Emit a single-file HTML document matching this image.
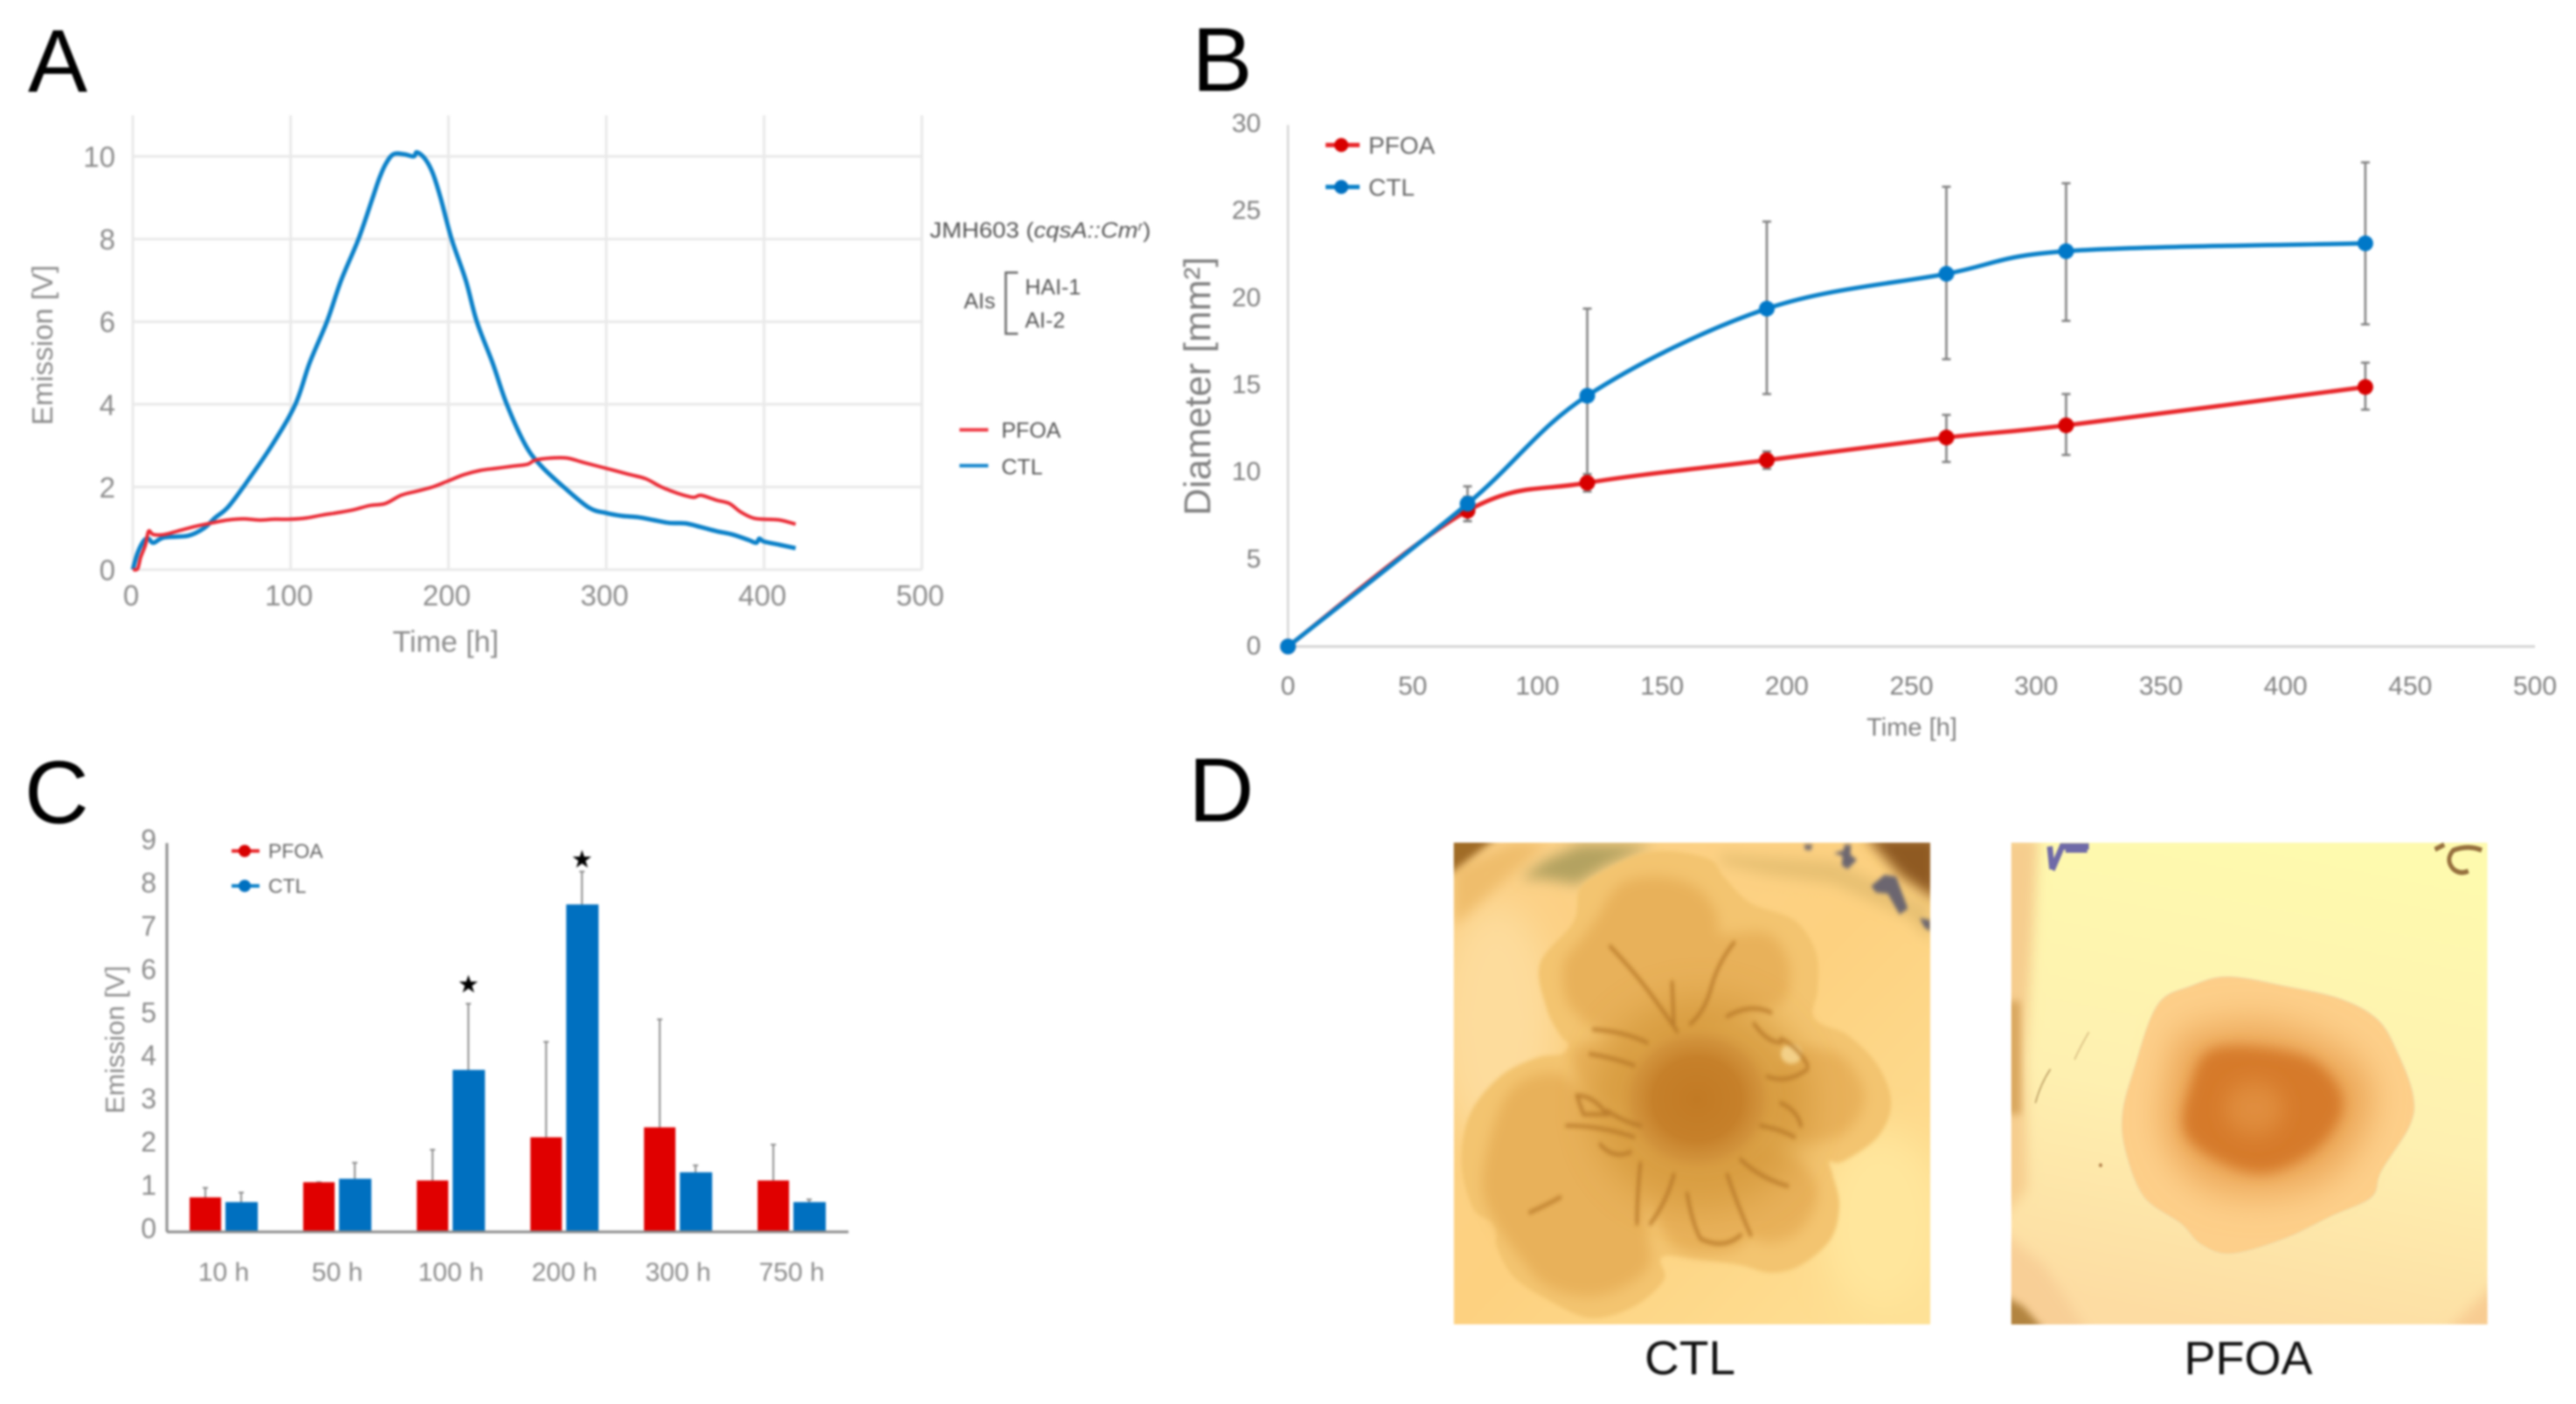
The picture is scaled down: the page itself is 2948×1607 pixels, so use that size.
<!DOCTYPE html>
<html lang="en">
<head>
<meta charset="utf-8">
<title>PFOA and CTL emission, diameter and colony morphology</title>
<style>
html,body{margin:0;padding:0;background:#fff;}
body{width:2948px;height:1607px;overflow:hidden;}
#figure{display:block;filter:blur(1.3px);font-family:"Liberation Sans",sans-serif;}
</style>
</head>
<body>
<svg id="figure" xmlns="http://www.w3.org/2000/svg" width="2948" height="1607" viewBox="0 0 2948 1607">
  <defs>
    <filter id="b5" x="-30%" y="-30%" width="160%" height="160%"><feGaussianBlur stdDeviation="5"/></filter>
    <filter id="b10" x="-30%" y="-30%" width="160%" height="160%"><feGaussianBlur stdDeviation="10"/></filter>
    <filter id="b18" x="-40%" y="-40%" width="180%" height="180%"><feGaussianBlur stdDeviation="18"/></filter>
    <filter id="b30" x="-50%" y="-50%" width="200%" height="200%"><feGaussianBlur stdDeviation="30"/></filter>
    <filter id="b50" x="-60%" y="-60%" width="220%" height="220%"><feGaussianBlur stdDeviation="50"/></filter>
    <clipPath id="ctl-clip"><rect x="62" y="80" width="1425" height="1277"/></clipPath>
    <clipPath id="pfoa-clip"><rect x="83" y="80" width="1424" height="1277"/></clipPath>
    <linearGradient id="ctl-bg" x1="0" y1="0" x2="1" y2="1">
      <stop offset="0" stop-color="#fbd088"/><stop offset="0.5" stop-color="#fdd180"/><stop offset="1" stop-color="#fee196"/>
    </linearGradient>
    <linearGradient id="pfoa-bg" x1="0.6" y1="0" x2="0.4" y2="1">
      <stop offset="0" stop-color="#fefaae"/><stop offset="0.55" stop-color="#fef0b0"/><stop offset="1" stop-color="#fddca2"/>
    </linearGradient>
    <radialGradient id="ctl-core">
      <stop offset="0" stop-color="#c27a24"/><stop offset="0.55" stop-color="#c6802a"/><stop offset="0.8" stop-color="#d0903a" stop-opacity="0.85"/><stop offset="1" stop-color="#d99d42" stop-opacity="0"/>
    </radialGradient>
  </defs>

  <text x="32" y="105" font-size="102" fill="#000">A</text>
  <text x="1364" y="104" font-size="104" fill="#000">B</text>
  <text x="28" y="942" font-size="102" fill="#000">C</text>
  <text x="1360" y="940" font-size="104" fill="#000">D</text>

  <g id="panel-a"></g>
  <g id="panel-b"></g>
  <g id="panel-c"></g>

  <g fill="#555" font-size="25">
    <text x="1064" y="272" font-size="25" textLength="253" lengthAdjust="spacingAndGlyphs">JMH603 (<tspan font-style="italic">cqsA::Cm</tspan><tspan font-style="italic" font-size="15" dy="-8">r</tspan><tspan dy="8">)</tspan></text>
    <text x="1103" y="353">AIs</text>
    <path d="M1165,312H1151V382H1165" fill="none" stroke="#666" stroke-width="2.5"/>
    <text x="1173" y="337">HAI-1</text>
    <text x="1173" y="375">AI-2</text>
  </g>
  <g font-size="25" fill="#555">
    <line x1="1098" y1="492" x2="1131" y2="492" stroke="#ef3b45" stroke-width="4"/>
    <text x="1146" y="501">PFOA</text>
    <line x1="1098" y1="533" x2="1131" y2="533" stroke="#1486cc" stroke-width="4"/>
    <text x="1146" y="543">CTL</text>
  </g>

  <g font-size="28" fill="#666">
    <line x1="1517" y1="166" x2="1556" y2="166" stroke="#e8262a" stroke-width="5"/>
    <circle cx="1535" cy="166" r="8" fill="#d80000"/>
    <text x="1566" y="176">PFOA</text>
    <line x1="1517" y1="214" x2="1556" y2="214" stroke="#0a80c8" stroke-width="5"/>
    <circle cx="1535" cy="214" r="8" fill="#0070c0"/>
    <text x="1566" y="224">CTL</text>
  </g>

  <g font-size="23" fill="#666">
    <line x1="265" y1="974" x2="297" y2="974" stroke="#e8262a" stroke-width="4"/>
    <circle cx="280" cy="974" r="7" fill="#d80000"/>
    <text x="307" y="982">PFOA</text>
    <line x1="265" y1="1014" x2="297" y2="1014" stroke="#0a80c8" stroke-width="4"/>
    <circle cx="280" cy="1014" r="7" fill="#0070c0"/>
    <text x="307" y="1022">CTL</text>
  </g>

  <!-- Panel D: CTL colony illustration -->
  <svg x="1640" y="930" width="600" height="677" viewBox="0 0 1568 1568" preserveAspectRatio="none">
    <g clip-path="url(#ctl-clip)">
      <rect x="62" y="80" width="1425" height="1277" fill="url(#ctl-bg)"/>
      <ellipse cx="190" cy="560" rx="170" ry="320" fill="#fddc9c" filter="url(#b50)"/>
      <ellipse cx="1340" cy="1080" rx="180" ry="240" fill="#ffe69c" filter="url(#b50)"/>
      <polygon points="62,150 240,80 340,80 62,300" fill="#efbd6c" filter="url(#b18)"/>
      <polygon points="40,60 200,60 40,170" fill="#a06c28" filter="url(#b10)"/>
      <polygon points="260,175 340,125 440,85 660,85 520,140 430,190 330,175" fill="#b3a261" filter="url(#b18)"/>
      <polygon points="860,135 1000,165 1200,190 1420,280 1487,340 1487,250 1200,130 860,110" fill="#e7c072" filter="url(#b18)"/>
      <polygon points="1290,60 1510,60 1510,235 1400,170" fill="#8f5a22" filter="url(#b18)"/>
      <g fill="#6c6670" filter="url(#b5)">
        <polygon points="1110,85 1135,85 1130,100 1112,98"/>
        <polygon points="1230,85 1250,85 1248,112 1268,125 1240,150 1222,140 1225,115 1198,108 1228,100"/>
        <polygon points="1310,195 1350,165 1385,170 1420,255 1395,270 1360,215 1325,212"/>
        <polygon points="1455,280 1487,285 1487,315 1470,305"/>
      </g>
      <polygon class="smooth" points="620,110 720,103 830,125 870,170 950,240 1080,285 1145,370 1150,470 1135,530 1160,560 1240,590 1330,670 1370,770 1330,860 1225,925 1185,925 1195,960 1215,1040 1190,1130 1100,1200 1010,1220 920,1200 800,1185 700,1175 680,1190 690,1240 600,1310 470,1340 340,1290 240,1230 190,1150 190,1115 175,1085 120,1050 85,930 110,800 200,700 310,650 385,640 405,615 380,590 340,520 320,400 420,290 440,200 520,150" fill="#f3c470" filter="url(#b5)"/>
      <g fill="#e8b15a" filter="url(#b18)">
        <polygon class="smooth" points="490,280 560,190 680,170 790,200 850,270 860,320 1000,320 1065,400 1050,500 950,530 800,580 620,620 480,570 400,500 390,400 440,340"/>
        <polygon class="smooth" points="1060,640 1180,630 1250,670 1290,760 1230,850 1100,870 1000,800"/>
        <polygon class="smooth" points="950,890 1100,930 1150,1020 1080,1120 960,1130 900,1000"/>
        <polygon class="smooth" points="150,950 220,750 350,690 450,740 620,880 640,1100 640,1210 500,1280 350,1260 260,1180 170,1060"/>
        <polygon class="smooth" points="640,900 930,900 950,1110 850,1170 700,1130"/>
        <polygon class="smooth" points="430,620 600,620 620,760 500,760 430,700"/>
      </g>
      <ellipse cx="800" cy="770" rx="330" ry="280" fill="#d59a3e" opacity="0.85" filter="url(#b50)"/>
      <ellipse cx="790" cy="760" rx="240" ry="200" fill="url(#ctl-core)"/>
      <ellipse cx="1072" cy="640" rx="32" ry="26" fill="#f3d088" filter="url(#b5)"/>
      <g fill="none" stroke="#b47526" stroke-width="10" stroke-linecap="round" opacity="0.8" filter="url(#b5)">
        <path d="M530,355Q600,420 650,480Q700,540 730,580"/>
        <path d="M900,345Q850,400 830,470Q810,530 770,560"/>
        <path d="M715,450L720,560"/>
        <path d="M480,575Q570,580 640,610"/>
        <path d="M470,640Q540,650 600,670"/>
        <path d="M430,750L450,800L520,800Q480,750 430,750"/>
        <path d="M520,790Q570,820 620,830"/>
        <path d="M400,830Q500,830 600,860"/>
        <path d="M620,930Q610,1020 610,1090"/>
        <path d="M720,960Q700,1030 650,1090"/>
        <path d="M760,1010Q775,1090 800,1130Q870,1160 920,1120"/>
        <path d="M880,960Q910,1040 950,1120"/>
        <path d="M920,920Q980,970 1060,990"/>
        <path d="M880,540Q950,505 1010,530"/>
        <path d="M1000,700Q1060,720 1120,680"/>
        <path d="M1040,770Q1090,790 1100,830"/>
        <path d="M1040,600Q1090,620 1120,670"/>
        <path d="M960,560Q1000,610 1040,610"/>
        <path d="M980,830Q1040,840 1080,860"/>
        <path d="M500,880Q540,920 590,900"/>
        <path d="M290,1060Q340,1040 380,1020"/>
      </g>
    </g>
  </svg>
  <text x="1934" y="1573" font-size="55" text-anchor="middle" fill="#111">CTL</text>

  <!-- Panel D: PFOA colony illustration -->
  <svg x="2270" y="930" width="600" height="677" viewBox="0 0 1568 1568" preserveAspectRatio="none">
    <g clip-path="url(#pfoa-clip)">
      <rect x="83" y="80" width="1424" height="1277" fill="url(#pfoa-bg)"/>
      <polygon points="40,60 165,60 150,300 125,650 130,1000 40,1090" fill="#f6cd8e" filter="url(#b18)"/>
      <polygon points="70,500 110,500 112,800 70,800" fill="#d9a860" filter="url(#b10)"/>
      <polygon points="40,1100 180,1200 330,1400 40,1400" fill="#f8cf96" filter="url(#b18)"/>
      <polygon points="60,1280 120,1310 190,1380 60,1380" fill="#b2843f" filter="url(#b10)"/>
      <polygon points="1540,1240 1540,1380 1380,1380" fill="#f8cc92" filter="url(#b18)"/>
      <path d="M205,152L235,90H315M310,98H245M205,150L198,90" fill="none" stroke="#6f6aa8" stroke-width="17"/>
      <path d="M1350,98L1378,85M1490,100Q1450,85 1405,100Q1380,125 1405,150Q1425,165 1450,155" fill="none" stroke="#96703e" stroke-width="13"/>
      <path d="M200,680Q170,720 155,770" fill="none" stroke="#b89a60" stroke-width="4"/>
      <path d="M315,582Q290,620 272,655" fill="none" stroke="#d8bd82" stroke-width="4"/>
      <circle cx="350" cy="935" r="5" fill="#b3814a"/>
      <polygon class="smooth" points="730,435 900,460 1070,495 1180,550 1240,640 1285,750 1275,830 1190,950 1160,1020 1040,1070 900,1130 740,1170 650,1145 590,1090 480,1020 425,900 415,800 450,680 520,510 620,460" fill="#fdcf8a" stroke="#f5dca4" stroke-width="4"/>
      <polygon class="smooth" points="600,590 850,560 1100,650 1160,780 1050,950 850,1010 650,980 540,850 560,680" fill="#eba657" filter="url(#b50)"/>
      <polygon class="smooth" points="680,630 850,625 1000,665 1075,770 1005,885 850,955 705,925 600,845 620,720" fill="#d67a2a" filter="url(#b18)"/>
      <ellipse cx="810" cy="785" rx="90" ry="70" fill="#e08d3e" filter="url(#b30)"/>
    </g>
  </svg>
  <text x="2573" y="1573" font-size="54" text-anchor="middle" fill="#111">PFOA</text>

<script>
// ---------- Panel A data ----------
const aTickX = [0, 100, 200, 300, 400, 500];
const aTickY = [0, 2, 4, 6, 8, 10];
const aPfoaTimes = [0,3,5,8,10,13,20,30,40,50,60,70,80,90,100,110,120,130,140,150,160,170,180,190,200,210,220,230,240,250,255,265,275,285,295,305,315,325,335,345,355,360,370,378,385,393,400,410,420];
const aPfoaValues = [0,0.02,0.3,0.6,0.93,0.85,0.85,0.95,1.05,1.13,1.2,1.23,1.2,1.22,1.22,1.25,1.32,1.38,1.45,1.55,1.6,1.8,1.9,2.0,2.15,2.3,2.4,2.45,2.5,2.55,2.65,2.7,2.7,2.6,2.5,2.4,2.3,2.2,2.0,1.85,1.75,1.8,1.68,1.6,1.4,1.25,1.22,1.2,1.1];
const aCtlTimes = [0,3,7,10,13,20,35,45,52,60,70,88,103,112,123,132,143,152,156,160,165,172,178,180,185,190,195,202,211,218,228,237,249,259,273,289,300,310,320,330,340,350,360,370,380,390,395,397,400,410,420];
const aCtlValues = [0,0.4,0.7,0.75,0.65,0.78,0.82,1.0,1.25,1.5,2.0,3.0,4.0,5.0,6.0,7.0,8.0,9.0,9.45,9.8,10.05,10.05,10.0,10.1,9.95,9.6,9.0,8.0,7.0,6.0,5.0,4.0,3.0,2.5,2.0,1.5,1.37,1.3,1.27,1.2,1.13,1.12,1.03,0.93,0.85,0.72,0.65,0.75,0.68,0.6,0.52];

// ---------- Panel B data ----------
const bTickX = [0, 50, 100, 150, 200, 250, 300, 350, 400, 450, 500];
const bTickY = [0, 5, 10, 15, 20, 25, 30];
const bTimes = [0, 72, 120, 192, 264, 312, 432];
const bPfoa = [0, 7.8, 9.4, 10.7, 12, 12.7, 14.9];
const bPfoaUpper = [0, 8.6, 9.9, 11.2, 13.3, 14.5, 16.3];
const bPfoaLower = [0, 7.2, 8.9, 10.2, 10.6, 11, 13.6];
const bCtl = [0, 8.2, 14.4, 19.4, 21.4, 22.7, 23.15];
const bCtlUpper = [0, 9.2, 19.4, 24.4, 26.4, 26.6, 27.8];
const bCtlLower = [0, 7.2, 9.4, 14.5, 16.5, 18.7, 18.5];

// ---------- Panel C data ----------
const cCategories = ['10 h', '50 h', '100 h', '200 h', '300 h', '750 h'];
const cTickY = [0, 1, 2, 3, 4, 5, 6, 7, 8, 9];
const cPfoa = [0.8, 1.15, 1.19, 2.19, 2.42, 1.19];
const cCtl = [0.69, 1.23, 3.75, 7.58, 1.38, 0.69];
const cPfoaErrTop = [1.02, 1.15, 1.9, 4.4, 4.92, 2.02];
const cCtlErrTop = [0.91, 1.6, 5.28, 8.34, 1.54, 0.75];
const cStarCategories = ['100 h', '200 h'];
const cStarValues = [5.54, 8.43];

const NS = 'http://www.w3.org/2000/svg';
function make(tag, attrs, parent, content) {
  const node = document.createElementNS(NS, tag);
  for (const k in attrs) node.setAttribute(k, attrs[k]);
  if (content !== undefined) node.textContent = content;
  parent.appendChild(node);
  return node;
}
function smoothPath(pts) {
  let d = 'M' + pts[0][0] + ',' + pts[0][1];
  for (let i = 0; i < pts.length - 1; i++) {
    const p0 = pts[Math.max(i - 1, 0)], p1 = pts[i], p2 = pts[i + 1], p3 = pts[Math.min(i + 2, pts.length - 1)];
    d += 'C' + (p1[0] + (p2[0] - p0[0]) / 6) + ',' + (p1[1] + (p2[1] - p0[1]) / 6) + ' ' +
         (p2[0] - (p3[0] - p1[0]) / 6) + ',' + (p2[1] - (p3[1] - p1[1]) / 6) + ' ' + p2[0] + ',' + p2[1];
  }
  return d;
}
// Round the hand-traced colony outlines: each polygon becomes a closed smooth path with the same attributes.
document.querySelectorAll('polygon.smooth').forEach(poly => {
  const nums = poly.getAttribute('points').trim().split(/[\s,]+/).map(Number);
  const pts = [];
  for (let i = 0; i < nums.length; i += 2) pts.push([nums[i], nums[i + 1]]);
  const n = pts.length;
  let d = 'M' + pts[0][0] + ',' + pts[0][1];
  for (let i = 0; i < n; i++) {
    const p0 = pts[(i + n - 1) % n], p1 = pts[i], p2 = pts[(i + 1) % n], p3 = pts[(i + 2) % n];
    d += 'C' + (p1[0] + (p2[0] - p0[0]) / 6) + ',' + (p1[1] + (p2[1] - p0[1]) / 6) + ' ' +
         (p2[0] - (p3[0] - p1[0]) / 6) + ',' + (p2[1] - (p3[1] - p1[1]) / 6) + ' ' + p2[0] + ',' + p2[1];
  }
  const path = document.createElementNS(NS, 'path');
  for (const at of Array.from(poly.attributes)) {
    if (at.name !== 'points') path.setAttribute(at.name, at.value);
  }
  path.setAttribute('d', d + 'Z');
  poly.parentNode.replaceChild(path, poly);
});

// ---------- Panel A ----------
(function () {
  const g = document.getElementById('panel-a');
  const xA = v => 152 + v * (1055 - 152) / 500;
  const yA = v => 652 - v * (652 - 179) / 10;
  const grid = '#e9e9e9', text = '#8c8c8c';
  aTickX.forEach(v => {
    const line = make('line', { x1: xA(v), x2: xA(v), y1: 132, y2: 652, stroke: grid, 'stroke-width': 3 }, g);
    
    
    const label = make('text', { x: xA(v) - 2, y: 693, 'font-size': 33, 'text-anchor': 'middle', fill: text }, g, String(v));
    
    
  });
  aTickY.forEach(v => {
    const line = make('line', { x1: 152, x2: 1055, y1: yA(v), y2: yA(v), stroke: grid, 'stroke-width': 3 }, g);
    
    
    const label = make('text', { x: 132, y: yA(v) + 12, 'font-size': 33, 'text-anchor': 'end', fill: text }, g, String(v));
    
    
  });
  const xt = make('text', { x: 510, y: 746, 'font-size': 34, 'text-anchor': 'middle', fill: text }, g, 'Time [h]');
  
  
  const yt = make('text', { transform: 'translate(60,395) rotate(-90)', 'font-size': 33, 'text-anchor': 'middle', fill: text }, g, 'Emission [V]');
  
  
  const ctl = make('path', { d: smoothPath(aCtlTimes.map((t, i) => [xA(t), yA(aCtlValues[i])])), fill: 'none', stroke: '#0a80c8', 'stroke-width': 5, 'stroke-linejoin': 'round' }, g);
  
  
  const pfoa = make('path', { d: smoothPath(aPfoaTimes.map((t, i) => [xA(t), yA(aPfoaValues[i])])), fill: 'none', stroke: '#ea2a35', 'stroke-width': 4, 'stroke-linejoin': 'round' }, g);
  
  
})();

// ---------- Panel B ----------
(function () {
  const g = document.getElementById('panel-b');
  const xB = v => 1474 + v * (2901 - 1474) / 500;
  const yB = v => 740 - v * (740 - 142) / 30;
  const text = '#808080';
  const yAxis = make('line', { x1: 1474, x2: 1474, y1: 143, y2: 740, stroke: '#d4d4d4', 'stroke-width': 2.5 }, g);
  
  
  const xAxis = make('line', { x1: 1474, x2: 2901, y1: 740, y2: 740, stroke: '#d4d4d4', 'stroke-width': 3 }, g);
  
  
  bTickX.forEach(v => {
    const label = make('text', { x: xB(v), y: 795, 'font-size': 30, 'text-anchor': 'middle', fill: text }, g, String(v));
    
    
  });
  bTickY.forEach(v => {
    const label = make('text', { x: 1443, y: yB(v) + 9, 'font-size': 30, 'text-anchor': 'end', fill: text }, g, String(v));
    
    
  });
  const xt = make('text', { x: 2188, y: 842, 'font-size': 29, 'text-anchor': 'middle', fill: text }, g, 'Time [h]');
  
  
  const yt = make('text', { transform: 'translate(1385,442) rotate(-90)', 'font-size': 43, 'text-anchor': 'middle', fill: text }, g, 'Diameter [mm²]');
  
  

  function errorBars(name, upper, lower) {
    bTimes.forEach((t, i) => {
      if (t === 0) return;
      const bar = make('path', {
        d: 'M' + xB(t) + ',' + yB(upper[i]) + 'V' + yB(lower[i]) +
           'M' + (xB(t) - 5) + ',' + yB(upper[i]) + 'h10M' + (xB(t) - 5) + ',' + yB(lower[i]) + 'h10',
        fill: 'none', stroke: '#7f7f7f', 'stroke-width': 2.5 }, g);
      
      
    });
  }
  errorBars('panel-b-pfoa-error-bar', bPfoaUpper, bPfoaLower);
  errorBars('panel-b-ctl-error-bar', bCtlUpper, bCtlLower);

  const pfoaPts = bTimes.map((t, i) => [xB(t), yB(bPfoa[i])]);
  const ctlPts = bTimes.map((t, i) => [xB(t), yB(bCtl[i])]);
  const pfoaLine = make('path', { d: smoothPath(pfoaPts), fill: 'none', stroke: '#e8262a', 'stroke-width': 5 }, g);
  
  
  pfoaPts.forEach(p => {
    const dot = make('circle', { cx: p[0], cy: p[1], r: 9, fill: '#d80000' }, g);
    
    
  });
  const ctlLine = make('path', { d: smoothPath(ctlPts), fill: 'none', stroke: '#0a80c8', 'stroke-width': 5 }, g);
  
  
  ctlPts.forEach(p => {
    const dot = make('circle', { cx: p[0], cy: p[1], r: 9, fill: '#0078c8' }, g);
    
    
  });
})();

// ---------- Panel C ----------
(function () {
  const g = document.getElementById('panel-c');
  const y0 = 1410, unit = (1410 - 965) / 9;
  const yC = v => y0 - v * unit;
  const band = 130, left = 191;
  const text = '#8c8c8c';
  const catCenter = i => left + band * i + band / 2;
  cTickY.forEach(v => {
    const label = make('text', { x: 179, y: yC(v) + 7, 'font-size': 32, 'text-anchor': 'end', fill: text }, g, String(v));
    
    
  });
  cCategories.forEach((c, i) => {
    const cx = catCenter(i);
    const label = make('text', { x: cx, y: 1466, 'font-size': 30, 'text-anchor': 'middle', fill: text }, g, c);
    
    

    const redX = cx - 39, blueX = cx + 2, w = 36;
    const e1 = make('path', { d: 'M' + (redX + w / 2) + ',' + yC(cPfoa[i]) + 'V' + yC(cPfoaErrTop[i]) + 'm-3,0h6', stroke: '#8c8c8c', 'stroke-width': 2, fill: 'none' }, g);
    
    
    const e2 = make('path', { d: 'M' + (blueX + w / 2) + ',' + yC(cCtl[i]) + 'V' + yC(cCtlErrTop[i]) + 'm-3,0h6', stroke: '#8c8c8c', 'stroke-width': 2, fill: 'none' }, g);
    
    
    const r1 = make('rect', { x: redX, y: yC(cPfoa[i]), width: w, height: y0 - yC(cPfoa[i]), fill: '#e00000' }, g);
    
    
    const r2 = make('rect', { x: blueX, y: yC(cCtl[i]), width: w + 1, height: y0 - yC(cCtl[i]), fill: '#0070c0' }, g);
    
    
    const starIndex = cStarCategories.indexOf(c);
    if (starIndex >= 0) {
      const star = make('text', { x: blueX + w / 2, y: yC(cStarValues[starIndex]), 'font-size': 28, 'text-anchor': 'middle', fill: '#000', 'font-family': '"DejaVu Sans",sans-serif' }, g, '★');
      
      
    }
  });
  const yAxis = make('line', { x1: left, x2: left, y1: 965, y2: y0, stroke: '#8c8c8c', 'stroke-width': 3 }, g);
  
  
  const xAxis = make('line', { x1: left, x2: 971, y1: y0, y2: y0, stroke: '#8c8c8c', 'stroke-width': 3 }, g);
  
  
  const yt = make('text', { transform: 'translate(142,1190) rotate(-90)', 'font-size': 30.5, 'text-anchor': 'middle', fill: text }, g, 'Emission [V]');
  
  
})();
</script>
</svg>
</body>
</html>
